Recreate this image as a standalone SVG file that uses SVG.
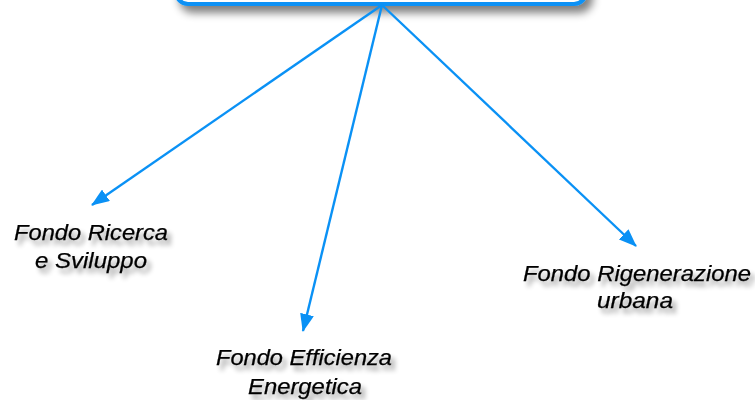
<svg xmlns="http://www.w3.org/2000/svg" width="755" height="400" viewBox="0 0 755 400">
  <defs>
    <filter id="boxShadow" x="-10%" y="-50%" width="120%" height="250%">
      <feGaussianBlur in="SourceAlpha" stdDeviation="4"/>
      <feOffset dx="5" dy="7" result="b"/>
      <feComponentTransfer><feFuncA type="linear" slope="0.5"/></feComponentTransfer>
      <feMerge><feMergeNode/><feMergeNode in="SourceGraphic"/></feMerge>
    </filter>
    <filter id="textShadow" x="-10%" y="-30%" width="120%" height="170%">
      <feGaussianBlur in="SourceAlpha" stdDeviation="2.5"/>
      <feOffset dx="4" dy="5" result="b"/>
      <feComponentTransfer><feFuncA type="linear" slope="0.4"/></feComponentTransfer>
      <feMerge><feMergeNode/><feMergeNode in="SourceGraphic"/></feMerge>
    </filter>
    <marker id="arrow" markerUnits="userSpaceOnUse" markerWidth="18" markerHeight="14" refX="17" refY="7" orient="auto">
      <path d="M0,0 L18,7 L0,14 Z" fill="#0A91F5"/>
    </marker>
  </defs>
  <style>
    .lbl { font-family: "Liberation Sans", Arial, sans-serif; font-style: italic; font-size: 22px; fill: #000; text-anchor: middle; stroke: #000; stroke-width: 0.25; }
    .conn { stroke: #0A91F5; stroke-width: 2.4; fill: none; }
  </style>
  <rect width="755" height="400" fill="#ffffff"/>
  <g id="root">
    <rect x="176" y="-30" width="410" height="34" rx="12" ry="12" fill="#ffffff" stroke="#0A91F5" stroke-width="4" filter="url(#boxShadow)"/>
  </g>
  <g id="connectors">
    <line class="conn" x1="382" y1="5" x2="92" y2="205" marker-end="url(#arrow)"/>
    <line class="conn" x1="382" y1="5" x2="303" y2="331" marker-end="url(#arrow)"/>
    <line class="conn" x1="382" y1="5" x2="636" y2="246" marker-end="url(#arrow)"/>
  </g>
  <g id="fondo-ricerca" filter="url(#textShadow)">
    <text class="lbl" x="91" y="240" textLength="154" lengthAdjust="spacingAndGlyphs">Fondo Ricerca</text>
    <text class="lbl" x="91" y="268" textLength="112" lengthAdjust="spacingAndGlyphs">e Sviluppo</text>
  </g>
  <g id="fondo-efficienza" filter="url(#textShadow)">
    <text class="lbl" x="304" y="365" textLength="176" lengthAdjust="spacingAndGlyphs">Fondo Efficienza</text>
    <text class="lbl" x="305" y="394" textLength="114" lengthAdjust="spacingAndGlyphs">Energetica</text>
  </g>
  <g id="fondo-rigenerazione" filter="url(#textShadow)">
    <text class="lbl" x="637" y="281" textLength="228" lengthAdjust="spacingAndGlyphs">Fondo Rigenerazione</text>
    <text class="lbl" x="635" y="308" textLength="76" lengthAdjust="spacingAndGlyphs">urbana</text>
  </g>
</svg>
